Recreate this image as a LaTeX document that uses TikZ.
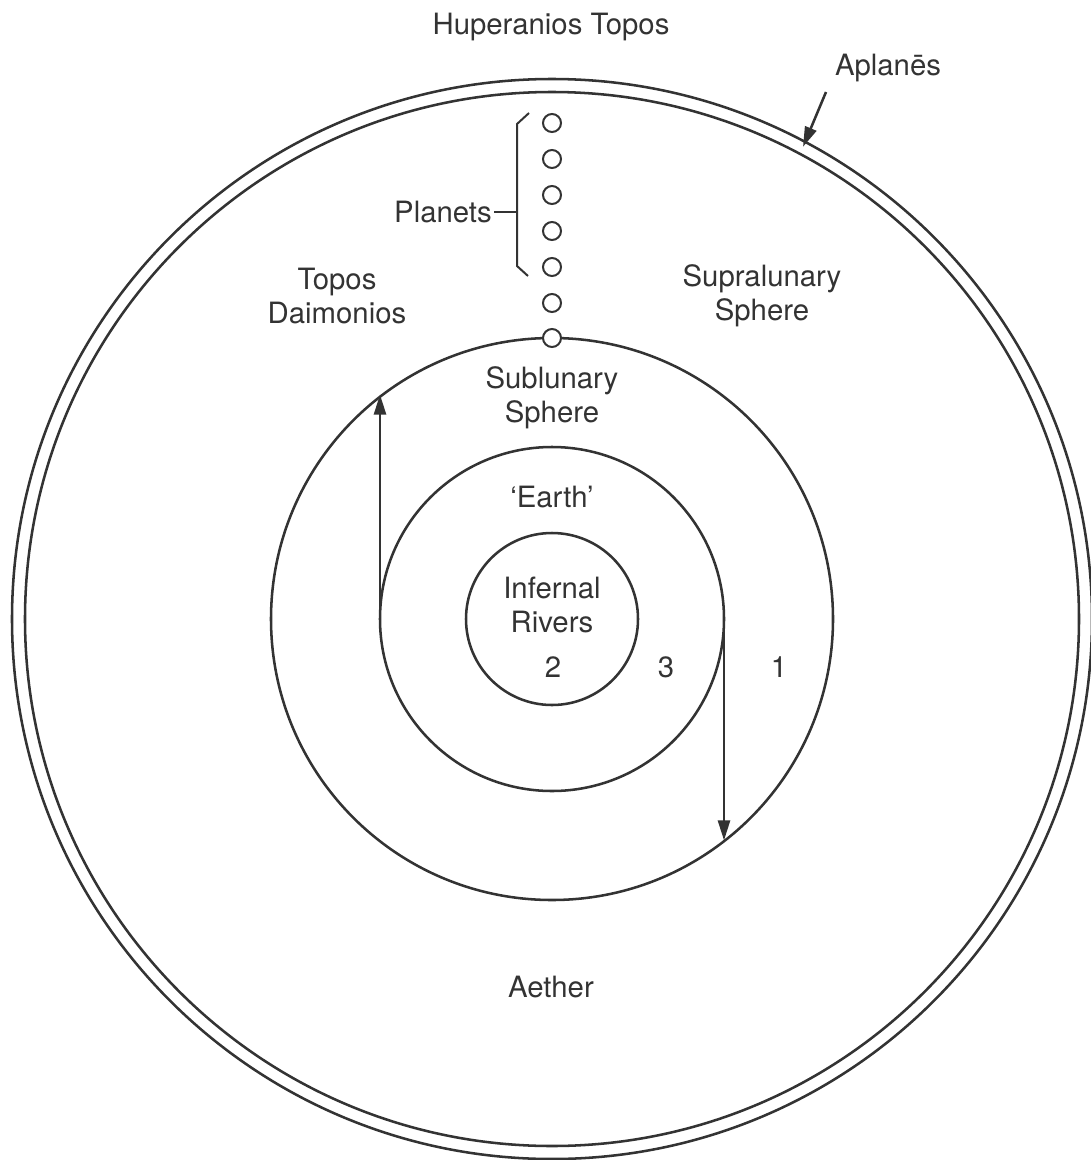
\documentclass[tikz,border=0pt]{standalone}
\usepackage{fontspec}
\setmainfont{TeX Gyre Heros}
\usetikzlibrary{arrows.meta,calc}
\definecolor{inkgray}{RGB}{51,51,51}

\tikzset{every picture/.style={line width=1.9pt}}
\tikzset{
  ring/.style={draw=inkgray, circle, inner sep=0pt, outer sep=0pt},
  planet/.style={draw=inkgray, fill=white, circle, inner sep=0pt, outer sep=0pt, minimum size=13.5pt, line width=1.5pt},
  txt/.style={text=inkgray, font=\fontsize{22}{25.5}\selectfont, align=center, inner sep=0.75pt},
  pointer/.style={draw=inkgray, -{Triangle[length=15pt,width=9pt]}}
}

\begin{document}
\begin{tikzpicture}[x=0.75pt,y=0.75pt,yscale=-1,xscale=1]
        \useasboundingbox (0,0) rectangle (1091,1160);

        %Shape: Circles
        \node [ring, minimum size=810pt] (aplanes) at (552,619) {};
        \node [ring, minimum size=790.5pt] (aplanesIn) at (552,619) {};
        \node [ring, minimum size=421.5pt] (sublunary) at (552,619) {};
        \node [ring, minimum size=258pt] (earth) at (552,619) {};
        \node [ring, minimum size=129pt] (rivers) at (552,619) {};

        %Shape: Planets
        \foreach \y [count=\i] in {123,159,195,231,267,303,338}
            \node [planet] (p\i) at (552,\y) {};

        %Straight Lines: brace
        \coordinate (braceTop) at (529,113);
        \coordinate (braceBot) at (528,276);
        \coordinate (braceMid) at (517,210);
        \draw [inkgray, line width=1.5pt] (braceTop) -- (517,124) -- (517,266) -- (braceBot);

        % Text Node
        \node [txt, anchor=east] (planets) at (494,212) {Planets};
        \draw [inkgray, line width=1.5pt] (planets.east) -- (planets.east -| braceMid);

        %Straight Lines: arrows
        \draw [pointer] (earth.west) -- (earth.west |- sublunary.127.7);
        \draw [pointer] (earth.east) -- (earth.east |- sublunary.-52.3);
        \coordinate (aplanesFrom) at (826,92);
        \coordinate (aplanesTip) at ($(aplanes.62)!0.4!(aplanesIn.62)$);
        \draw [pointer] (aplanesFrom) -- (aplanesTip);

        % Text Node
        \node [txt] (huperanios) at (551,27) {Huperanios Topos};
        % Text Node
        \node [txt] (aplanesText) at (888,68) {Aplanēs};
        % Text Node
        \node [txt] (daimonios) at (337,296) {Topos\\Daimonios};
        % Text Node
        \node [txt] (supralunary) at (762,296) {Supralunary\\Sphere};
        % Text Node
        \node [txt] (sublunaryText) at (552,398) {Sublunary\\Sphere};
        % Text Node
        \node [txt] (earthText) at (552,497) {‘Earth’};
        % Text Node
        \node [txt] (riversText) at (552,605) {Infernal\\Rivers};
        % Text Node
        \node [txt] (two) at (553,667) {2};
        % Text Node
        \node [txt] (three) at (666,667) {3};
        % Text Node
        \node [txt] (one) at (779,667) {1};
        % Text Node
        \node [txt] (aether) at (551,987) {Aether};

\end{tikzpicture}
\end{document}
